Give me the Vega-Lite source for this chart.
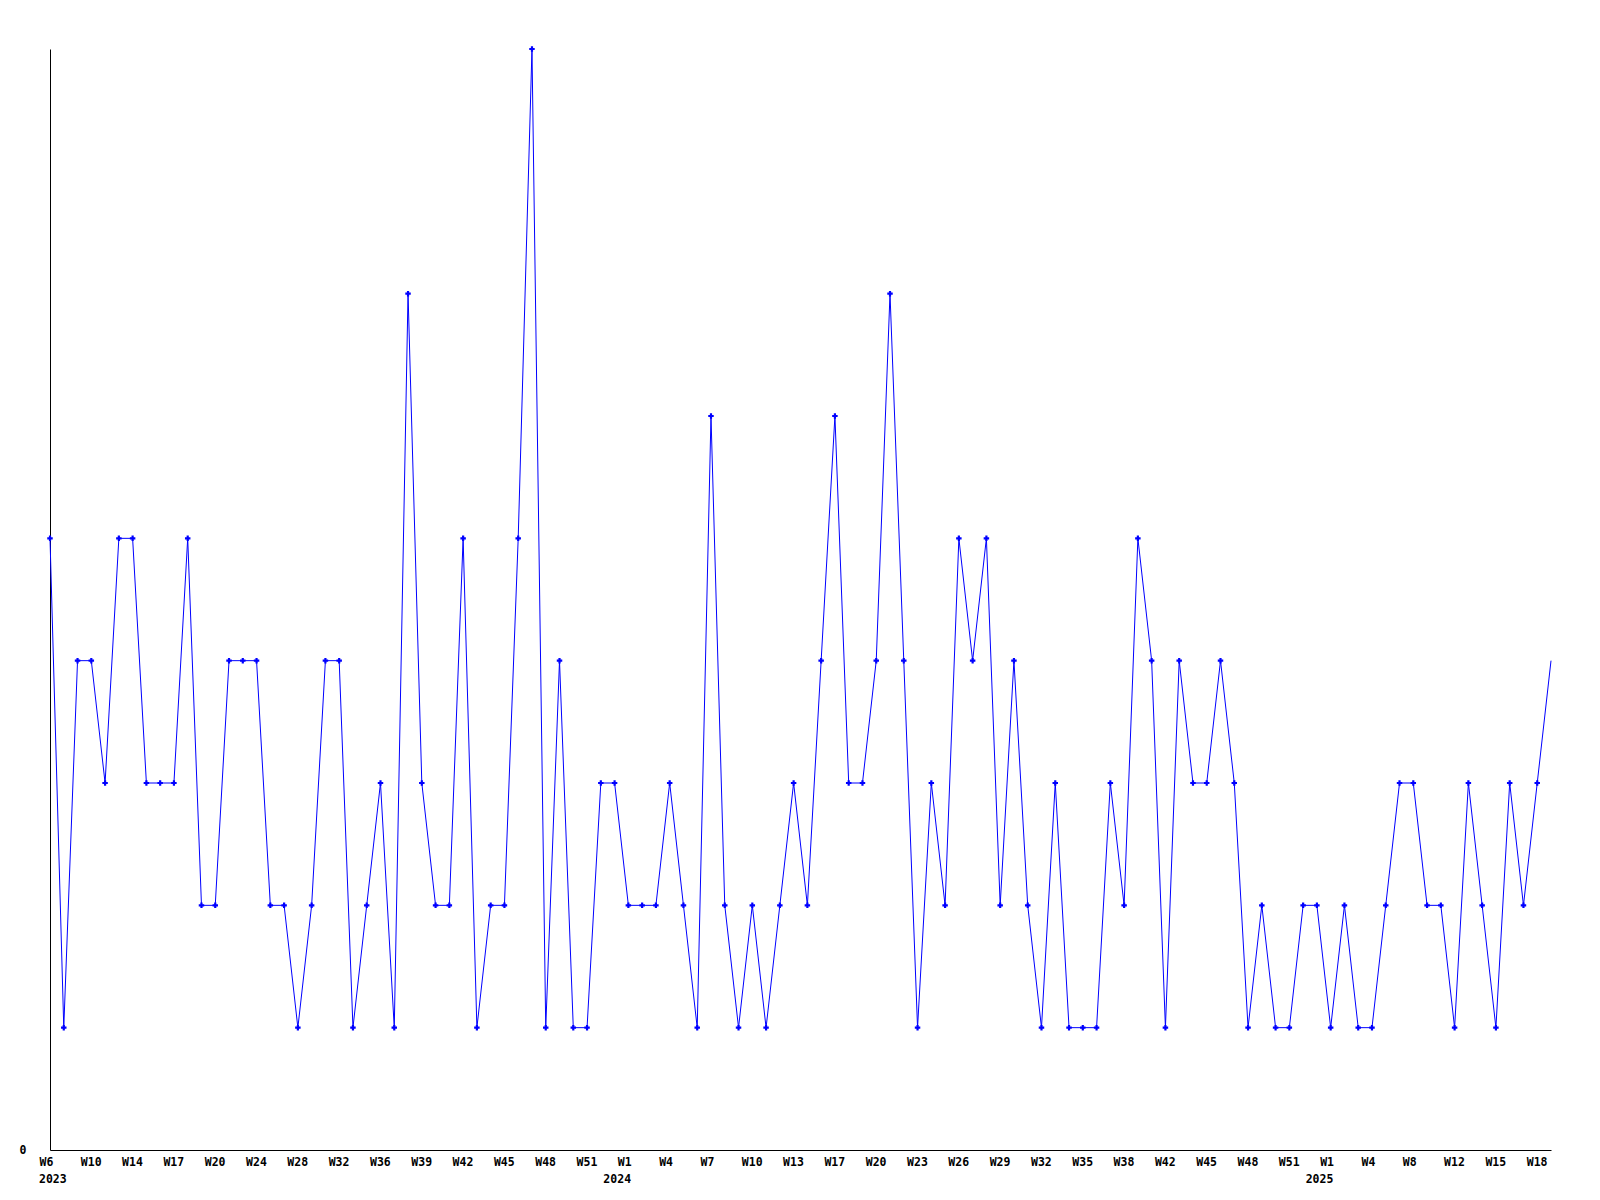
{
  "$schema": "https://vega.github.io/schema/vega-lite/v6.json",
  "width": 1501,
  "height": 1101,
  "autosize": {"type": "none"},
  "padding": {"left": 50, "top": 49, "right": 49, "bottom": 50},
  "background": "white",
  "config": {"view": {"stroke": null}},
  "datasets": {
    "counts": [
      {"i":0,"v":5},{"i":1,"v":1},{"i":2,"v":4},{"i":3,"v":4},{"i":4,"v":3},{"i":5,"v":5},{"i":6,"v":5},{"i":7,"v":3},{"i":8,"v":3},{"i":9,"v":3},
      {"i":10,"v":5},{"i":11,"v":2},{"i":12,"v":2},{"i":13,"v":4},{"i":14,"v":4},{"i":15,"v":4},{"i":16,"v":2},{"i":17,"v":2},{"i":18,"v":1},{"i":19,"v":2},
      {"i":20,"v":4},{"i":21,"v":4},{"i":22,"v":1},{"i":23,"v":2},{"i":24,"v":3},{"i":25,"v":1},{"i":26,"v":7},{"i":27,"v":3},{"i":28,"v":2},{"i":29,"v":2},
      {"i":30,"v":5},{"i":31,"v":1},{"i":32,"v":2},{"i":33,"v":2},{"i":34,"v":5},{"i":35,"v":9},{"i":36,"v":1},{"i":37,"v":4},{"i":38,"v":1},{"i":39,"v":1},
      {"i":40,"v":3},{"i":41,"v":3},{"i":42,"v":2},{"i":43,"v":2},{"i":44,"v":2},{"i":45,"v":3},{"i":46,"v":2},{"i":47,"v":1},{"i":48,"v":6},{"i":49,"v":2},
      {"i":50,"v":1},{"i":51,"v":2},{"i":52,"v":1},{"i":53,"v":2},{"i":54,"v":3},{"i":55,"v":2},{"i":56,"v":4},{"i":57,"v":6},{"i":58,"v":3},{"i":59,"v":3},
      {"i":60,"v":4},{"i":61,"v":7},{"i":62,"v":4},{"i":63,"v":1},{"i":64,"v":3},{"i":65,"v":2},{"i":66,"v":5},{"i":67,"v":4},{"i":68,"v":5},{"i":69,"v":2},
      {"i":70,"v":4},{"i":71,"v":2},{"i":72,"v":1},{"i":73,"v":3},{"i":74,"v":1},{"i":75,"v":1},{"i":76,"v":1},{"i":77,"v":3},{"i":78,"v":2},{"i":79,"v":5},
      {"i":80,"v":4},{"i":81,"v":1},{"i":82,"v":4},{"i":83,"v":3},{"i":84,"v":3},{"i":85,"v":4},{"i":86,"v":3},{"i":87,"v":1},{"i":88,"v":2},{"i":89,"v":1},
      {"i":90,"v":1},{"i":91,"v":2},{"i":92,"v":2},{"i":93,"v":1},{"i":94,"v":2},{"i":95,"v":1},{"i":96,"v":1},{"i":97,"v":2},{"i":98,"v":3},{"i":99,"v":3},
      {"i":100,"v":2},{"i":101,"v":2},{"i":102,"v":1},{"i":103,"v":3},{"i":104,"v":2},{"i":105,"v":1},{"i":106,"v":3},{"i":107,"v":2},{"i":108,"v":3},{"i":109,"v":4}
    ],
    "years": [
      {"i":0,"year":"2023"},{"i":42,"year":"2024"},{"i":93,"year":"2025"}
    ]
  },
  "layer": [
    {
      "data": {"name": "counts"},
      "mark": {"type": "line", "color": "#0000ff", "strokeWidth": 1, "interpolate": "linear"},
      "encoding": {
        "x": {
          "field": "i", "type": "quantitative",
          "scale": {"domain": [0, 109], "nice": false, "zero": false},
          "axis": {
            "title": null,
            "grid": false,
            "ticks": false,
            "tickSize": 0,
            "domainColor": "black",
            "domainWidth": 1,
            "values": [0,3,6,9,12,15,18,21,24,27,30,33,36,39,42,45,48,51,54,57,60,63,66,69,72,75,78,81,84,87,90,93,96,99,102,105,108],
            "labelExpr": "['W6','W10','W14','W17','W20','W24','W28','W32','W36','W39','W42','W45','W48','W51','W1','W4','W7','W10','W13','W17','W20','W23','W26','W29','W32','W35','W38','W42','W45','W48','W51','W1','W4','W8','W12','W15','W18'][datum.value/3]",
            "labelAlign": "left",
            "labelBaseline": "top",
            "labelOffset": -11,
            "labelPadding": 6,
            "labelFlush": false,
            "labelOverlap": false,
            "labelBound": false,
            "labelFont": "DejaVu Sans Mono",
            "labelFontWeight": "bold",
            "labelFontSize": 11.5,
            "labelColor": "black"
          }
        },
        "y": {
          "field": "v", "type": "quantitative",
          "scale": {"domain": [0, 9], "nice": false, "zero": true},
          "axis": {
            "title": null,
            "grid": false,
            "ticks": false,
            "tickSize": 0,
            "domainColor": "black",
            "domainWidth": 1,
            "values": [0],
            "format": "d",
            "labelPadding": 24,
            "labelBaseline": "middle",
            "labelFont": "DejaVu Sans Mono",
            "labelFontWeight": "bold",
            "labelFontSize": 11.5,
            "labelColor": "black"
          }
        }
      }
    },
    {
      "data": {"name": "counts"},
      "transform": [{"filter": "datum.i < 109"}],
      "mark": {"type": "point", "shape": "cross", "filled": true, "size": 30, "color": "#0000ff", "opacity": 1, "strokeWidth": 0},
      "encoding": {
        "x": {"field": "i", "type": "quantitative"},
        "y": {"field": "v", "type": "quantitative"}
      }
    },
    {
      "data": {"name": "years"},
      "transform": [{"filter": "datum.i == 0"}],
      "mark": {"type": "text", "align": "left", "baseline": "middle", "dx": -11, "dy": 30, "font": "DejaVu Sans Mono", "fontWeight": "bold", "fontSize": 11.5, "color": "black"},
      "encoding": {
        "x": {"field": "i", "type": "quantitative"},
        "y": {"datum": 0, "type": "quantitative"},
        "text": {"field": "year"}
      }
    },
    {
      "data": {"name": "years"},
      "transform": [{"filter": "datum.i > 0"}],
      "mark": {"type": "text", "align": "left", "baseline": "middle", "dx": -25, "dy": 30, "font": "DejaVu Sans Mono", "fontWeight": "bold", "fontSize": 11.5, "color": "black"},
      "encoding": {
        "x": {"field": "i", "type": "quantitative"},
        "y": {"datum": 0, "type": "quantitative"},
        "text": {"field": "year"}
      }
    }
  ]
}
